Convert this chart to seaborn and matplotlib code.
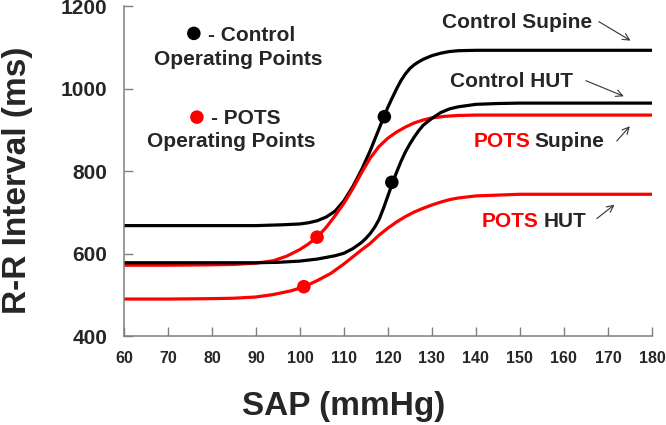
import matplotlib
matplotlib.use("Agg")
import matplotlib.pyplot as plt
import seaborn as sns

# Baroreflex curves: SAP (mmHg) vs R-R interval (ms)
cs_sap = [60, 70, 80, 90, 93, 96, 100, 102, 104, 106, 108, 110, 112, 114, 116, 118, 119, 120, 121, 122,
          123, 124, 125, 126, 127, 128, 130, 132, 134, 136, 140, 150, 160, 170, 180]
cs_rr = [668, 668, 668, 668, 669, 670, 672, 675, 680, 689, 703, 728, 762, 803, 850, 903, 930, 955, 978, 1000,
         1020, 1036, 1049, 1058, 1065, 1071, 1080, 1086, 1090, 1092, 1093, 1093, 1093, 1093, 1093]

ch_sap = [60, 70, 80, 90, 95, 100, 104, 108, 110, 112, 114, 115, 116, 117, 118, 119, 120, 121, 122, 123,
          124, 125, 126, 127, 128, 130, 132, 134, 136, 140, 145, 150, 160, 170, 180]
ch_rr = [578, 578, 578, 578, 579, 582, 587, 595, 601, 612, 627, 637, 649, 664, 683, 710, 740, 770, 798, 824,
         847, 866, 883, 898, 911, 928, 942, 951, 956, 962, 964, 965, 965, 965, 965]

ps_sap = [60, 70, 80, 85, 90, 94, 97, 100, 102, 104, 106, 108, 110, 112, 114, 116, 118, 120, 122, 124,
          126, 128, 130, 133, 136, 140, 150, 160, 170, 180]
ps_rr = [572, 572, 573, 574, 577, 583, 594, 610, 624, 641, 664, 692, 722, 757, 796, 832, 860, 880, 895, 907,
         917, 924, 929, 933, 935, 936, 936, 936, 936, 936]

ph_sap = [60, 70, 80, 85, 90, 94, 98, 101, 104, 107, 110, 112, 114, 116, 118, 120, 122, 124, 126, 128,
          130, 132, 134, 136, 140, 145, 150, 160, 170, 180]
ph_rr = [490, 490, 491, 492, 495, 501, 510, 520, 535, 552, 575, 592, 609, 625, 645, 662, 677, 690, 701, 710,
         718, 725, 731, 735, 740, 742, 744, 744, 744, 744]

# operating points
ctrl_op_sap = [119.2, 120.9]
ctrl_op_rr = [932, 773]
pots_op_sap = [103.9, 100.9]
pots_op_rr = [640, 520]

x_ticks = [60, 70, 80, 90, 100, 110, 120, 130, 140, 150, 160, 170, 180]
y_ticks = [400, 600, 800, 1000, 1200]

sns.set_style("ticks")
plt.rcParams["font.family"] = ["Liberation Sans", "DejaVu Sans"]
plt.rcParams["font.weight"] = "bold"

RED = "#ff0000"
GRAY = "#7f7f7f"

fig = plt.figure(figsize=(6.66, 4.25), dpi=100)
ax = fig.add_axes([0.186, 0.209, 0.7928, 0.7765])

lw = 2.3
sns.lineplot(x=cs_sap, y=cs_rr, color="black", linewidth=lw, ax=ax)
sns.lineplot(x=ps_sap, y=ps_rr, color=RED, linewidth=lw, ax=ax)
sns.lineplot(x=ch_sap, y=ch_rr, color="black", linewidth=lw, ax=ax)
sns.lineplot(x=ph_sap, y=ph_rr, color=RED, linewidth=lw, ax=ax)

sns.scatterplot(x=ctrl_op_sap, y=ctrl_op_rr, color="black", s=95, edgecolor="none", ax=ax, zorder=5)
sns.scatterplot(x=pots_op_sap, y=pots_op_rr, color=RED, s=95, edgecolor="none", ax=ax, zorder=5)

ax.set_xlim(60, 180)
ax.set_ylim(400, 1200)
ax.set_xticks(x_ticks)
ax.set_yticks(y_ticks)
ax.tick_params(axis="both", direction="in", length=6.5, width=1, color=GRAY)
ax.tick_params(axis="x", labelsize=11.5, pad=11)
ax.tick_params(axis="y", labelsize=15, pad=12)
for lab in ax.get_xticklabels() + ax.get_yticklabels():
    lab.set_fontweight("bold")

sns.despine(ax=ax)
for side in ["left", "bottom"]:
    ax.spines[side].set_color(GRAY)
    ax.spines[side].set_linewidth(1.1)

ax.set_xlabel("SAP (mmHg)", fontsize=24, fontweight="bold")
ax.set_ylabel("R-R Interval (ms)", fontsize=24, fontweight="bold")
ax.xaxis.set_label_coords(0.416, -0.165)
ax.yaxis.set_label_coords(-0.172, 0.473)

# legend-like key at upper left
txt = dict(fontsize=15, fontweight="bold", va="baseline")
ax.scatter([75.9], [1134], s=95, color="black", edgecolor="none", clip_on=False)
ax.text(79.2, 1116, "- Control", ha="left", **txt)
ax.text(86.1, 1057, "Operating Points", ha="center", **txt)
ax.scatter([76.6], [931], s=95, color=RED, edgecolor="none", clip_on=False)
ax.text(79.7, 914, "- POTS", ha="left", **txt)
ax.text(84.5, 859, "Operating Points", ha="center", **txt)

# curve labels with arrows
ax.text(132.2, 1148, "Control Supine", ha="left", **txt)
ax.text(134.1, 1003, "Control HUT", ha="left", **txt)
ax.text(152.5, 859, "POTS", ha="right", color=RED, **txt)
ax.text(153.4, 859, "Supine", ha="left", **txt)
ax.text(154.2, 665, "POTS", ha="right", color=RED, **txt)
ax.text(155.3, 665, "HUT", ha="left", **txt)

arrow = dict(arrowstyle="->", color="#333333", lw=0.8, mutation_scale=12)
ax.annotate("", xy=(175.7, 1113), xytext=(167.4, 1166), arrowprops=arrow)
ax.annotate("", xy=(174.2, 979), xytext=(164.4, 1022), arrowprops=arrow)
ax.annotate("", xy=(175.4, 914), xytext=(171.6, 868), arrowprops=arrow)
ax.annotate("", xy=(172.0, 723), xytext=(167.0, 681), arrowprops=arrow)

fig.savefig("out.png", dpi=100)
